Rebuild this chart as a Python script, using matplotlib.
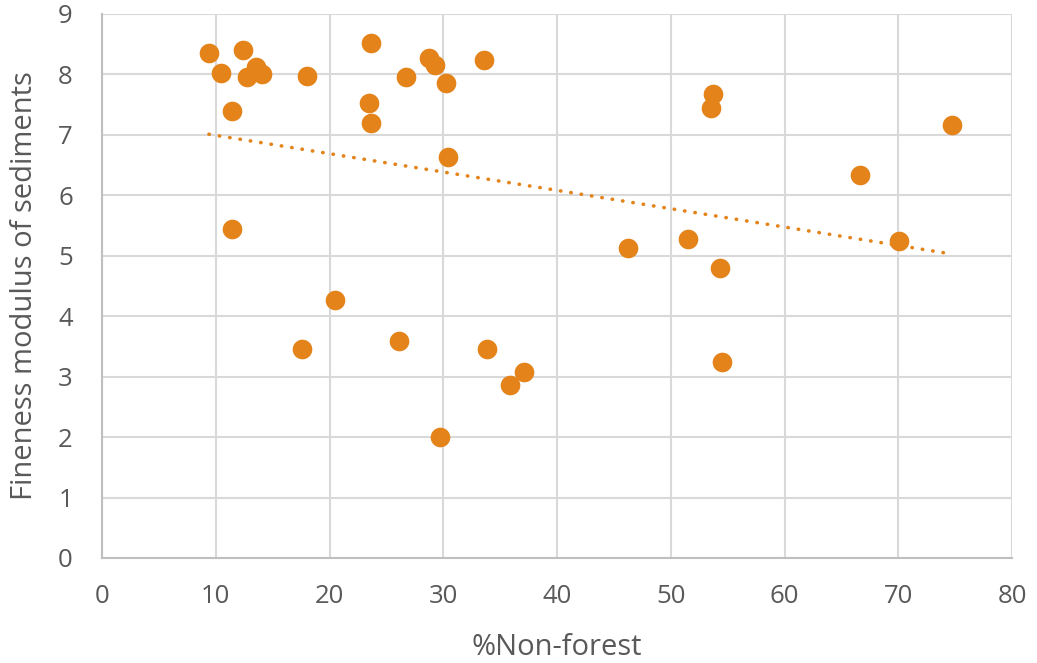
import numpy as np
import matplotlib
matplotlib.use("Agg")
import matplotlib.pyplot as plt

pct_non_forest = [9.4, 12.4, 10.5, 13.5, 12.7, 14.1, 11.4, 18.0, 23.6, 23.5,
                  23.6, 26.7, 28.7, 29.3, 30.2, 33.6, 30.4, 11.4, 20.5, 17.6,
                  26.1, 33.8, 35.9, 37.1, 29.75, 53.7, 53.5, 46.2, 51.5, 54.3,
                  54.5, 66.6, 70.1, 74.7]
fineness_modulus = [8.35, 8.40, 8.02, 8.13, 7.95, 8.00, 7.39, 7.97, 8.52, 7.52,
                    7.19, 7.95, 8.27, 8.15, 7.85, 8.23, 6.63, 5.45, 4.27, 3.46,
                    3.59, 3.46, 2.86, 3.08, 2.00, 7.67, 7.45, 5.12, 5.27, 4.80,
                    3.24, 6.33, 5.25, 7.17]
x_ticks = [0, 10, 20, 30, 40, 50, 60, 70, 80]
y_ticks = [0, 1, 2, 3, 4, 5, 6, 7, 8, 9]

plt.rcParams['font.family'] = ['Open Sans', 'DejaVu Sans']
orange = '#E3831A'
tick_color = '#595959'

fig = plt.figure(figsize=(10.37, 6.63), dpi=100)
ax = fig.add_axes([0.0984, 0.1584, 0.8776, 0.8206])

x = np.array(pct_non_forest)
y = np.array(fineness_modulus)
ax.scatter(x, y, s=200, color=orange, zorder=3, linewidths=0)

slope, intercept = np.polyfit(x, y, 1)
xt = np.array([x.min(), x.max()])
ax.plot(xt, slope * xt + intercept, color=orange, lw=2.6,
        linestyle=(0, (0.1, 2.8)), dash_capstyle='round', zorder=2)

ax.set_xlim(0, 80)
ax.set_ylim(0, 9)
ax.set_xticks(x_ticks)
ax.set_yticks(y_ticks)
ax.grid(True, color='#D9D9D9', lw=1.5, zorder=0)
ax.set_axisbelow(True)
for s in ['top', 'right']:
    ax.spines[s].set_visible(False)
for s in ['left', 'bottom']:
    ax.spines[s].set_color('#BFBFBF')
    ax.spines[s].set_linewidth(1.5)
ax.tick_params(length=0, labelsize=18.5, colors=tick_color)
ax.tick_params(axis='x', pad=19)
ax.tick_params(axis='y', pad=21)
ax.set_xlabel('%Non-forest', fontsize=21, color=tick_color, labelpad=17)
ax.set_ylabel('Fineness modulus of sediments', fontsize=21, color=tick_color, labelpad=14)

fig.savefig('out.png', dpi=100)
